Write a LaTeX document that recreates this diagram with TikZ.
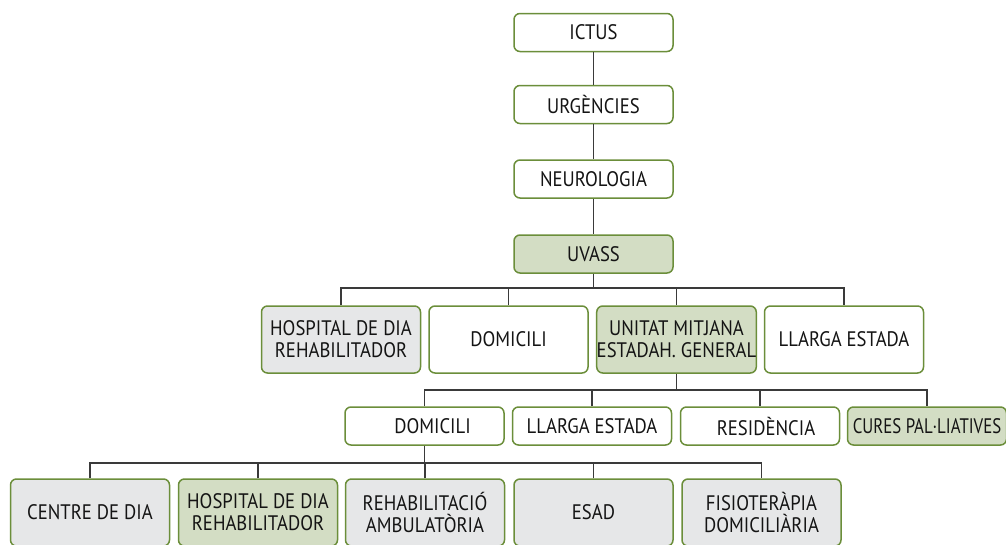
\documentclass[tikz,border=0pt]{standalone}
\usepackage{fontspec}
\setmainfont{PT Sans}[FakeStretch=0.89]
\usetikzlibrary{positioning}
\definecolor{boxgreen}{HTML}{6B8E3A}
\definecolor{fillgreen}{HTML}{D3DDC4}
\definecolor{fillgrey}{HTML}{E6E7E8}
\definecolor{linegrey}{HTML}{3A3A3A}
\tikzset{unit/.style = {draw=boxgreen, line width=1.5pt, rounded corners=6pt, fill=white, minimum width=159pt, minimum height=38pt, align=center, inner sep=0, text=black!92, font=\fontsize{21}{22}\selectfont}}
\tikzset{tallunit/.style = {unit, minimum height=67pt}}
\tikzset{greyunit/.style = {fill=fillgrey}}
\tikzset{greenunit/.style = {fill=fillgreen}}
\tikzset{link/.style = {draw=linegrey, line width=1.4pt}}

\begin{document}
\begin{tikzpicture}[x=1pt, y=-1pt]
      \useasboundingbox (0,0) rectangle (1006,544);
      \clip (0,0) rectangle (1006,544);

      % main chain
      \node [unit] (ictus) at (593.5, 32.5) {ICTUS};
      \node [unit] (urg) at (593.5, 104.5) {URGÈNCIES};
      \node [unit] (neuro) at (593.5, 179) {NEUROLOGIA};
      \node [unit, greenunit] (uvass) at (593.5, 254) {UVASS};

      % after UVASS
      \node [tallunit, greyunit] (hdr) at (341, 339.5) {HOSPITAL DE DIA\\REHABILITADOR};
      \node [tallunit] (dom) at (508.5, 339.5) {DOMICILI};
      \node [tallunit, greenunit] (umeg) at (676.5, 339.5) {UNITAT MITJANA\\ESTADAH. GENERAL};
      \node [tallunit] (lle) at (844, 339.5) {LLARGA ESTADA};

      % after UMEG
      \node [unit] (dom2) at (424.5, 426) {\hspace{16pt}DOMICILI};
      \node [unit] (lle2) at (592, 426) {LLARGA ESTADA};
      \node [unit] (res) at (760, 426) {\hspace{12pt}RESIDÈNCIA};
      \node [unit, greenunit] (cures) at (927, 426) {\scalebox{0.9}[1]{CURES PAL·LIATIVES}};

      % after DOMICILI
      \node [tallunit, greyunit] (cdia) at (90, 512.5) {CENTRE DE DIA};
      \node [tallunit, greenunit] (hdr2) at (258, 512.5) {HOSPITAL DE DIA\\REHABILITADOR};
      \node [tallunit, greyunit] (rehab) at (425, 512.5) {REHABILITACIÓ\\AMBULATÒRIA};
      \node [tallunit, greyunit] (esad) at (593.5, 512.5) {ESAD};
      \node [tallunit, greyunit] (fisio) at (761.5, 512.5) {FISIOTERÀPIA\\DOMICILIÀRIA};

      \coordinate (bus1) at (593.5, 288);
      \coordinate (bus2) at (676.5, 390);
      \coordinate (bus3) at (424.5, 463);

      \draw [link] (ictus) -- (urg);
      \draw [link] (urg) -- (neuro);
      \draw [link] (neuro) -- (uvass);

      \draw [link] (uvass) -- (bus1);
      \draw [link] (hdr.north) |- (bus1) -| (lle.north);
      \draw [link] (dom.north) -- (dom.north |- bus1);
      \draw [link] (umeg.north) -- (umeg.north |- bus1);

      \draw [link] (umeg) -- (bus2);
      \draw [link] (dom2.north) |- (bus2) -| (cures.north);
      \draw [link] (lle2.north) -- (lle2.north |- bus2);
      \draw [link] (res.north) -- (res.north |- bus2);

      \draw [link] (dom2) -- (bus3);
      \draw [link] (cdia.north) |- (bus3) -| (fisio.north);
      \draw [link] (hdr2.north) -- (hdr2.north |- bus3);
      \draw [link] (rehab.north) -- (rehab.north |- bus3);
      \draw [link] (esad.north) -- (esad.north |- bus3);
    \end{tikzpicture}
\end{document}
